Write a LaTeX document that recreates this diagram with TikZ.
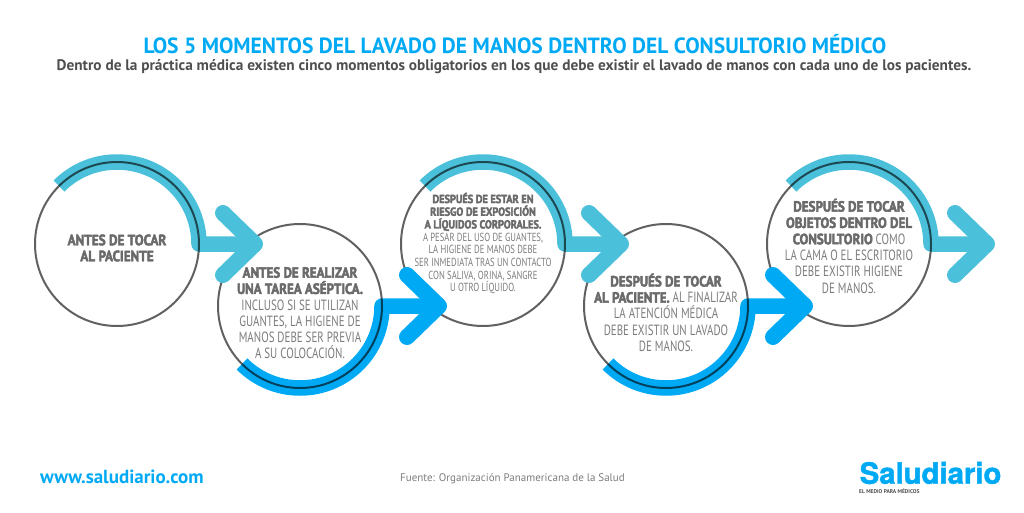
\documentclass[tikz,border=0pt]{standalone}
\usepackage{fontspec}
\usepackage{tikz}
\usetikzlibrary{calc}
\setmainfont{PT Sans}
\newfontfamily\fcuerpo[FakeStretch=.74,BoldFeatures={FakeBold=3,FakeStretch=.88}]{PT Sans}
\newfontfamily\ftitulo[FakeStretch=.98]{PT Sans}
\newfontfamily\flogo[BoldFeatures={FakeBold=1.5}]{TeX Gyre Heros}
\definecolor{turquesa}{HTML}{4BC0DA}
\definecolor{azul}{HTML}{00A9F4}
\definecolor{grisb}{HTML}{6A6A6A}
\definecolor{grist}{HTML}{7C7C7C}
\definecolor{grisos}{HTML}{4F4F4F}
\tikzset{
	paso/.style={circle,minimum size=164pt,inner sep=0pt,outer sep=0pt},
	aro/.style={line width=15.5pt,line join=round},
	punta/.style={line width=16pt,line cap=round,line join=round},
	linea/.style={black,opacity=.62,line width=2pt},
	texto/.style={align=center,inner sep=0pt,text=grist,font=\fcuerpo},
}
\newcommand{\negra}[1]{{\bfseries\color{grisb}#1}}

\begin{document}
\begin{tikzpicture}[x=1pt,y=1pt]
\useasboundingbox (0,0) rectangle (1024,512);

\node[paso] (m1) at (117,268) {};
\node[paso] (m2) at (300,206) {};
\node[paso] (m3) at (483,268) {};
\node[paso] (m4) at (666,206) {};
\node[paso] (m5) at (849,268) {};
\foreach \n in {1,3,5}
	\coordinate (t\n) at ($(m\n.east)+(56,0)$);
\foreach \n in {2,4}
	\coordinate (t\n) at ($(m\n.east)+(57,0)$);

% de derecha a izquierda, cada flecha tapa el aro siguiente
\foreach \n/\col/\ini/\fin in {5/turquesa/135/0,4/azul/225/360,3/turquesa/135/0,2/azul/225/360,1/turquesa/135/0}{
	\draw[aro,\col] (m\n.\ini) arc[start angle=\ini,end angle=\fin,radius=82pt] -- (t\n);
	\draw[punta,\col] ($(t\n)+(-32,31)$) -- (t\n) -- ($(t\n)+(-32,-31)$);
	\draw[linea] (m\n) circle (82pt);
}

\node[texto,font=\fcuerpo\fontsize{15}{16}\selectfont] (txt1) at (117,264) {\negra{ANTES DE TOCAR}\\\negra{AL PACIENTE}};
\node[texto,font=\fcuerpo\fontsize{14.8}{16.2}\selectfont] (txt2) at (300,199) {\negra{ANTES DE REALIZAR}\\\negra{UNA TAREA ASÉPTICA.}\\INCLUSO SI SE UTILIZAN\\GUANTES, LA HIGIENE DE\\MANOS DEBE SER PREVIA\\A SU COLOCACIÓN.};
\node[texto,font=\fcuerpo\fontsize{11.7}{12.7}\selectfont] (txt3) at (483,268.5) {\negra{DESPUÉS DE ESTAR EN}\\\negra{RIESGO DE EXPOSICIÓN}\\\negra{A LÍQUIDOS CORPORALES.}\\A PESAR DEL USO DE GUANTES,\\LA HIGIENE DE MANOS DEBE\\SER INMEDIATA TRAS UN CONTACTO\\CON SALIVA, ORINA, SANGRE\\U OTRO LÍQUIDO.};
\node[texto,font=\fcuerpo\fontsize{14.8}{16.2}\selectfont] (txt4) at (666,199.5) {\negra{DESPUÉS DE TOCAR}\\\negra{AL PACIENTE.} AL FINALIZAR\\LA ATENCIÓN MÉDICA\\DEBE EXISTIR UN LAVADO\\DE MANOS.};
\node[texto,font=\fcuerpo\fontsize{14.8}{16.3}\selectfont] (txt5) at (849,266) {\negra{DESPUÉS DE TOCAR}\\\negra{OBJETOS DENTRO DEL}\\\negra{CONSULTORIO} COMO\\LA CAMA O EL ESCRITORIO\\DEBE EXISTIR HIGIENE\\DE MANOS.};

\node[text=azul,font=\ftitulo\bfseries\fontsize{22}{22}\selectfont,inner sep=0pt] (titulo) at (515,468) {LOS 5 MOMENTOS DEL LAVADO DE MANOS DENTRO DEL CONSULTORIO MÉDICO};
\node[text=grisos,font=\bfseries\fontsize{15.3}{16}\selectfont,inner sep=0pt] (subtitulo) at (514,445) {Dentro de la práctica médica existen cinco momentos obligatorios en los que debe existir el lavado de manos con cada uno de los pacientes.};

\node[text=azul,font=\bfseries\fontsize{19}{19}\selectfont,inner sep=0pt,anchor=west] (web) at (40,35) {www.saludiario.com};
\node[text=grist,font=\fontsize{11}{11}\selectfont,inner sep=0pt] (fuente) at (512.5,33) {Fuente: Organización Panamericana de la Salud};
\node[text=azul,font=\flogo\bfseries\fontsize{29.3}{29}\selectfont,inner sep=0pt,anchor=west] (logo) at (859.5,39) {Saludiario};
\node[text=grisos,font=\bfseries\fontsize{5.5}{6}\selectfont,inner sep=0pt,anchor=west] (lema) at (859,20.5) {EL MEDIO PARA MÉDICOS};
\end{tikzpicture}
\end{document}
